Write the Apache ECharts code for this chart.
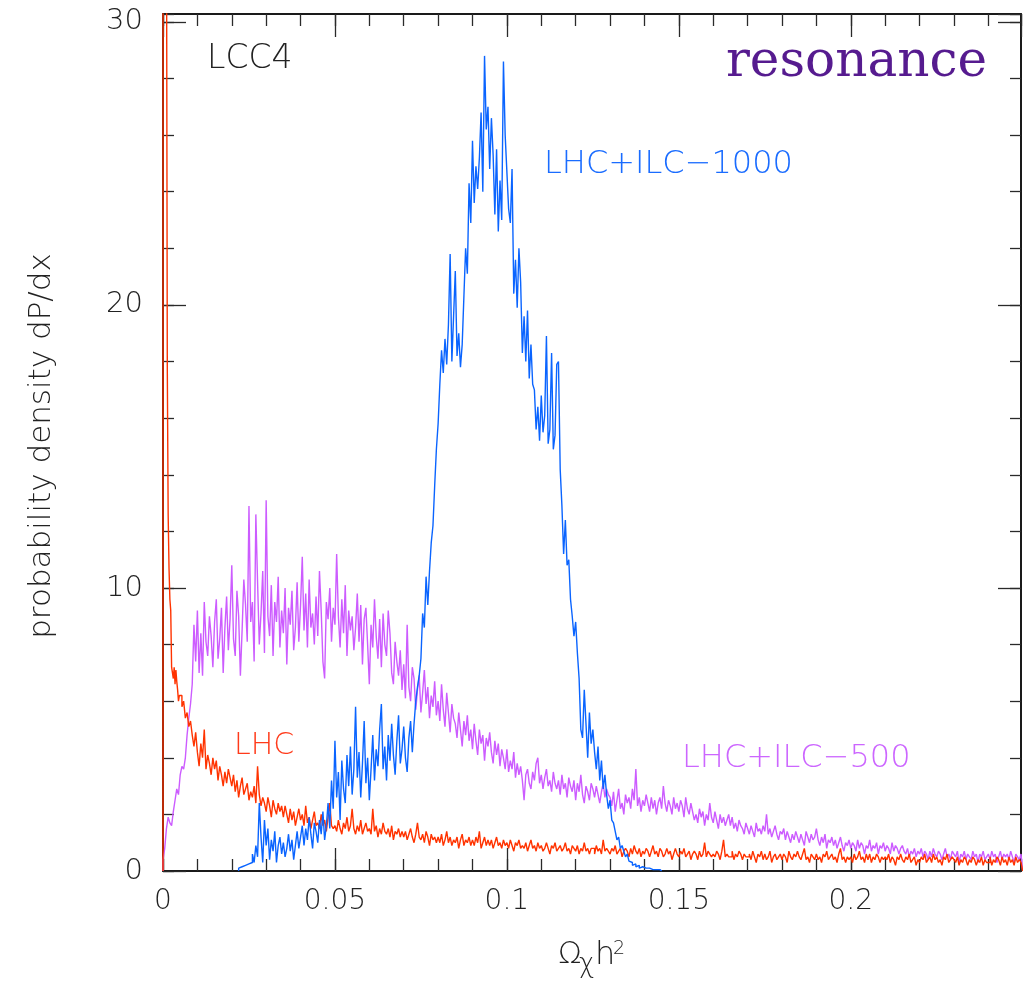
<!DOCTYPE html>
<html><head><meta charset="utf-8">
<script src="https://cdn.jsdelivr.net/npm/echarts@6/dist/echarts.min.js"></script>
<style>html,body{margin:0;padding:0;background:#fff}#c{width:1032px;height:982px}</style>
</head><body><div id="c"></div>
<script>
// ---- axis ranges & tick labels ----
const X_MIN = 0, X_MAX = 0.2495, Y_MIN = 0, Y_MAX = 30.28;
const xTickLabels = ['0', '0.05', '0.1', '0.15', '0.2'];
const yTickLabels = ['0', '10', '20', '30'];

// ---- LHC (red) : fine head bins then 0.0005 bins ----
const redHeadStart = 0, redHeadWidth = 0.00025;
const redHead = [40,40,40,40,35,17.8,12.6,10.7,9.6,9.2,7.2,7.0,6.8,7.2,6.6,7.1,6.7,6.4,6.0,6.2];
const redStart = 0.005, redWidth = 0.0005;
const redValues = [
6.2,5.8,6.0,5.4,5.6,5.1,5.3,4.8,4.4,4.9,
4.2,3.7,4.5,4.0,5.0,3.6,4.1,3.8,3.4,4.0,
3.6,3.9,3.2,3.7,3.4,3.0,3.5,3.1,3.6,3.3,
3.0,3.4,2.8,3.2,2.6,3.0,3.3,2.7,2.9,3.1,
2.5,2.8,2.6,3.0,2.4,3.7,2.7,2.3,2.6,2.4,
2.1,2.6,2.3,1.9,2.5,2.2,2.0,2.4,2.1,2.3,
1.9,2.3,2.0,1.7,2.2,1.8,2.1,1.6,1.9,2.2,
1.8,2.0,1.6,2.3,1.7,1.9,1.5,1.8,2.1,1.6,
1.7,1.5,2.0,1.6,1.8,1.4,1.9,2.4,1.6,1.5,
1.6,1.4,1.8,1.5,1.3,1.7,1.5,1.9,1.4,1.6,
2.2,1.5,1.3,1.6,1.4,1.8,1.3,1.5,1.7,1.4,
1.5,1.3,2.2,1.4,1.6,1.2,1.5,1.3,1.7,1.4,
1.3,1.5,1.2,1.6,1.1,1.4,1.3,1.5,1.2,1.4,
1.2,1.4,1.1,1.3,1.5,1.2,1.0,1.3,1.7,1.2,
1.1,1.3,1.0,1.4,1.2,0.9,1.3,1.1,1.2,1.0,
1.2,1.0,1.3,0.9,1.1,1.4,1.0,1.2,0.9,1.1,
1.0,1.2,0.8,1.1,1.3,0.9,1.1,1.0,1.2,0.9,
1.1,0.9,1.2,1.0,1.4,0.8,1.0,1.2,0.9,1.1,
0.9,1.1,0.8,1.0,1.2,0.9,1.0,0.8,1.1,0.9,
1.0,0.8,1.1,0.9,0.7,1.0,0.9,1.1,0.8,0.9,
0.8,1.0,0.7,0.9,1.1,0.8,0.9,0.7,1.0,0.8,
0.9,0.7,0.8,1.0,0.8,0.6,0.9,0.8,1.0,0.7,
0.8,0.9,0.7,0.8,1.0,0.7,0.8,0.6,0.9,0.8,
0.7,0.9,0.6,0.8,0.7,1.0,0.7,0.8,0.6,0.8,
0.8,0.6,0.9,0.7,0.8,0.6,1.1,0.7,0.8,0.7,
0.6,0.8,0.7,0.9,0.6,0.7,0.8,0.5,0.7,0.8,
0.7,0.5,0.8,0.6,0.9,0.7,0.6,0.8,0.5,0.7,
0.6,0.8,0.7,0.5,0.7,0.9,0.6,0.7,0.5,0.8,
0.7,0.5,0.6,0.8,0.6,0.7,0.4,0.6,0.8,0.6,
0.5,0.7,0.6,0.8,0.5,0.6,0.7,0.4,0.6,0.7,
0.6,0.4,0.7,0.5,0.6,1.0,0.5,0.7,0.6,0.5,
0.6,0.5,0.7,0.6,0.4,0.7,1.1,0.5,0.6,0.5,
0.5,0.7,0.4,0.6,0.5,0.7,0.6,0.4,0.6,0.5,
0.5,0.6,0.4,0.7,0.5,0.3,0.6,0.5,0.7,0.4,
0.6,0.4,0.5,0.7,0.3,0.5,0.6,0.4,0.5,0.6,
0.4,0.6,0.5,0.3,0.7,0.5,0.4,0.6,0.5,0.7,
0.5,0.4,0.6,0.8,0.4,0.5,0.3,0.6,0.5,0.4,
0.6,0.4,0.5,0.3,0.6,0.5,0.7,0.4,0.5,0.6,
0.4,0.5,0.3,0.6,0.8,0.4,0.5,0.3,0.5,0.4,
0.5,0.3,0.6,0.4,0.5,0.7,0.4,0.5,0.3,0.6,
0.4,0.6,0.3,0.5,0.4,0.6,0.5,0.3,0.5,0.4,
0.5,0.4,0.6,0.3,0.5,0.4,0.2,0.5,0.4,0.6,
0.4,0.3,0.5,0.4,0.6,0.3,0.4,0.5,0.2,0.4,
0.3,0.5,0.4,0.6,0.3,0.4,0.5,0.3,0.6,0.4,
0.5,0.3,0.4,0.2,0.5,0.4,0.6,0.3,0.4,0.5,
0.4,0.3,0.5,0.2,0.4,0.3,0.5,0.4,0.2,0.4,
0.3,0.5,0.4,0.2,0.4,0.3,0.5,0.2,0.4,0.3,
0.3,0.5,0.2,0.4,0.3,0.5,0.4,0.2,0.5,0.3,
0.4,0.2,0.5,0.3,0.4,0.2,0.5,0.3,0.4,0.3];

// ---- LHC+ILC-500 (purple) : 0.0005 bins ----
const purpleStart = 0, purpleWidth = 0.0005;
const purpleValues = [
0.4,0.8,1.5,1.9,1.7,1.6,2.1,2.5,2.9,2.7,
3.4,3.7,3.6,4.0,4.8,5.4,5.9,6.6,8.7,7.4,
9.2,7.0,8.4,6.9,9.5,8.1,7.6,9.0,8.3,7.2,
8.8,9.6,7.5,8.2,9.3,7.0,8.6,9.7,7.8,8.9,
10.8,8.2,7.6,9.9,9.0,6.9,8.5,10.3,9.4,8.1,
12.9,8.8,9.5,7.4,12.6,10.2,8.0,9.1,10.6,7.7,
13.1,9.0,8.3,10.1,7.6,9.5,8.8,10.4,7.9,9.2,
8.4,10.0,7.3,9.3,8.7,9.9,7.8,8.6,10.2,8.1,
9.4,11.1,8.5,9.8,7.9,10.3,8.6,9.1,8.0,9.7,
8.3,10.6,9.2,7.4,6.8,9.5,8.9,10.0,8.1,9.3,
8.7,11.2,9.0,7.9,9.6,8.4,10.1,7.6,9.2,8.5,
9.0,7.8,8.6,9.8,8.1,9.4,7.3,8.9,9.3,8.0,
6.6,8.7,7.9,9.6,8.3,7.5,8.9,7.2,9.1,8.0,
7.6,9.2,8.4,7.0,6.6,8.1,7.4,6.9,7.8,6.4,
7.3,6.1,8.7,6.5,6.0,7.2,6.8,5.7,6.4,6.9,
5.6,6.3,7.1,5.9,6.5,5.4,6.2,5.8,6.7,5.5,
6.0,5.3,6.6,5.7,5.1,6.3,5.6,4.9,5.9,5.4,
5.2,4.7,5.6,5.0,4.4,5.3,4.8,5.5,4.6,5.0,
4.3,5.2,4.6,4.1,5.0,4.5,4.8,3.9,4.7,4.4,
4.9,4.2,3.8,4.6,4.1,4.5,3.7,4.3,4.0,3.6,
4.3,3.5,3.9,3.6,4.2,3.3,3.8,3.4,3.7,3.2,
2.5,3.4,3.6,3.1,2.9,3.5,3.2,3.8,4.0,3.1,
3.4,2.9,3.3,3.6,3.0,3.2,2.8,3.5,3.1,2.9,
3.2,2.7,3.4,2.9,3.1,2.6,3.3,3.0,2.8,3.2,
2.5,3.1,2.8,3.4,2.7,2.4,3.0,2.8,2.5,3.1,
2.9,2.6,3.0,2.7,2.4,2.8,3.1,2.6,2.9,2.7,
2.6,2.3,2.8,2.1,2.5,2.9,2.2,2.4,2.0,2.7,
2.4,2.6,2.2,2.9,2.5,3.6,2.3,2.6,2.1,2.5,
2.3,2.7,2.4,2.1,2.6,2.2,2.5,2.0,2.4,2.6,
2.2,3.0,2.4,2.1,2.5,2.3,2.0,2.6,2.2,2.4,
2.1,2.5,2.3,1.9,2.6,2.2,2.0,2.4,2.1,1.8,
2.0,1.7,2.2,1.9,2.1,1.6,2.0,1.8,2.4,1.9,
1.7,2.1,1.8,1.5,2.0,1.7,1.9,1.6,1.8,2.0,
1.6,1.9,1.5,1.7,1.4,1.8,1.6,1.5,1.3,1.7,
1.5,1.3,1.6,1.4,1.2,1.7,1.4,1.5,1.3,1.6,
1.4,2.0,1.3,1.5,1.2,1.4,1.6,1.3,1.1,1.4,
1.3,1.5,1.1,1.4,1.2,1.0,1.3,1.1,1.4,1.2,
1.0,1.3,1.1,0.9,1.4,1.2,1.0,1.3,1.1,1.2,
1.5,1.1,0.9,1.2,1.0,1.3,0.8,1.1,1.0,1.2,
0.9,1.1,0.8,1.0,1.2,0.9,0.7,1.0,0.9,1.1,
0.8,1.0,0.9,0.7,1.1,0.8,1.0,0.9,0.6,0.9,
0.8,1.1,0.7,0.9,0.8,1.0,0.6,0.9,0.8,1.0,
0.7,0.9,0.8,0.6,1.0,0.7,0.9,0.8,0.6,0.8,
0.9,0.7,0.6,0.8,0.5,0.7,0.6,0.8,0.5,0.7,
0.6,0.8,0.5,0.7,0.6,0.4,0.7,0.5,0.8,0.6,
0.5,0.7,0.6,0.4,0.6,0.8,0.5,0.6,0.4,0.7,
0.6,0.5,0.7,0.3,0.6,0.5,0.7,0.4,0.6,0.5,
0.4,0.7,0.5,0.6,0.3,0.6,0.5,0.7,0.4,0.5,
0.6,0.4,0.7,0.5,0.6,0.3,0.5,0.7,0.4,0.6,
0.5,0.6,0.4,0.7,0.5,0.3,0.6,0.5,0.4,0.6];

// ---- LHC+ILC-1000 (blue) : 0.0005 bins ----
const blueStart = 0.022, blueWidth = 0.0005;
const blueValues = [
0.1,0.15,0.1,0.2,0.15,0.25,0.2,0.3,
0.6,0.3,0.9,0.5,
2.4,1.2,0.3,1.8,0.9,1.5,
0.4,1.1,0.7,1.4,0.3,0.9,1.2,0.6,
1.0,0.5,0.8,1.3,0.7,1.1,0.4,0.9,1.4,0.8,
1.2,1.6,0.9,1.5,1.1,1.9,1.3,0.8,1.7,1.4,
1.0,1.8,1.3,2.1,1.1,1.6,2.4,1.5,
3.2,2.2,4.6,2.6,3.5,1.8,3.9,2.9,
2.4,4.1,3.0,4.4,2.7,3.6,5.8,3.3,
4.2,2.6,3.8,5.3,3.1,4.0,2.5,3.6,4.8,3.2,4.3,3.7,
5.0,5.9,3.6,4.4,3.2,4.8,3.9,5.2,4.1,3.4,4.6,5.5,3.8,4.3,5.1,4.0,3.5,4.7,5.3,4.2,
5.2,6.0,6.5,6.9,
7.5,9.1,8.6,10.4,9.4,10.6,11.6,12.2,13.6,14.9,15.8,17.2,18.4,17.6,
18.8,17.9,19.3,21.8,18.0,19.6,21.2,18.2,19.0,
17.8,18.6,
20.3,22.0,21.1,
24.3,22.9,
25.8,23.6,24.9,24.1,
25.2,26.8,24.0,28.8,
26.2,27.0,24.8,26.6,25.3,
23.2,25.5,22.6,24.4,23.0,
28.6,26.0,
24.7,23.4,
22.9,24.8,20.4,21.6,19.9,22.0,
20.8,18.3,19.6,18.0,
19.8,17.4,18.6,17.2,
17.0,15.6,16.4,15.2,16.8,15.5,16.1,
18.9,15.1,15.6,18.3,14.9,15.4,17.9,18.0,
14.2,
12.9,11.2,12.4,10.8,
11.0,9.6,
9.0,8.3,8.8,7.7,
6.8,5.0,4.7,
6.4,5.2,4.0,5.6,4.5,
5.0,4.2,3.6,4.4,3.2,3.9,2.9,3.4,
2.7,2.2,2.5,1.8,
1.7,1.4,1.1,1.2,0.8,0.9,
0.7,0.5,0.6,0.35,0.3,
0.2,0.25,0.15,0.2,0.1,0.15,0.1,0.1,0.05,0.1,0.15,0.05,0.1,0.05,0.1,0.05,0];

// ---- build histogram step points ----
function hist(segs) {
  const pts = [[segs[0][0], 0]];
  segs.forEach(([s, w, vals]) => vals.forEach((v, i) => pts.push([+(s + i * w).toFixed(6), v])));
  const last = segs[segs.length - 1];
  const xe = +(last[0] + last[1] * last[2].length).toFixed(6);
  pts.push([xe, last[2][last[2].length - 1]]);
  pts.push([xe, 0]);
  return pts;
}
const redData = hist([[redHeadStart, redHeadWidth, redHead], [redStart, redWidth, redValues]]);
const purpleData = hist([[purpleStart, purpleWidth, purpleValues]]);
const blueData = hist([[blueStart, blueWidth, blueValues]]);

const FONT = 'DejaVu Sans';
const lineSty = { color: '#1a1a1a', width: 2 };
const tickSty = { color: '#2a2a2a', width: 1.3 };
function lab(list) {
  return v => { const s = list.find(t => Math.abs(parseFloat(t) - v) < 1e-9); return s === undefined ? '' : s; };
}
function xAx(pos, interval, len, showLabel, showLine) {
  return { type: 'value', gridIndex: 0, position: pos, min: X_MIN, max: X_MAX, interval: interval,
    axisLine: { show: showLine, onZero: false, lineStyle: lineSty },
    axisTick: { show: true, inside: true, length: len, lineStyle: tickSty },
    axisLabel: { show: showLabel, formatter: lab(xTickLabels), showMaxLabel: false, margin: 17,
      fontFamily: FONT, fontWeight: 200, fontSize: 28, color: '#222' },
    splitLine: { show: false } };
}
function yAx(pos, interval, len, showLabel, showLine) {
  return { type: 'value', gridIndex: 0, position: pos, min: Y_MIN, max: Y_MAX, interval: interval,
    axisLine: { show: showLine, onZero: false, lineStyle: lineSty },
    axisTick: { show: true, inside: true, length: len, lineStyle: tickSty },
    axisLabel: { show: showLabel, formatter: lab(yTickLabels), showMaxLabel: false, margin: 20,
      fontFamily: FONT, fontWeight: 200, fontSize: 29, color: '#222' },
    splitLine: { show: false } };
}

const chart = echarts.init(document.getElementById('c'), null, { renderer: 'canvas' });
function txt(x, y, text, size, color, extra) {
  return Object.assign({ type: 'text', x: x, y: y, silent: true,
    style: Object.assign({ text: text, fontFamily: FONT, fontWeight: 200, fontSize: size, fill: color,
      align: 'left', verticalAlign: 'middle' }, (extra && extra.style) || {}) }, (extra && extra.el) || {});
}
chart.setOption({
  animation: false,
  backgroundColor: '#fff',
  grid: { left: 163, right: 11, top: 14, bottom: 111, containLabel: false },
  xAxis: [
    xAx('bottom', 0.05, 23, true, true),
    xAx('bottom', 0.01, 12, false, false),
    xAx('top', 0.05, 23, false, true),
    xAx('top', 0.01, 12, false, false)
  ],
  yAxis: [
    yAx('left', 10, 23, true, true),
    yAx('left', 2, 11, false, false),
    yAx('right', 10, 23, false, true),
    yAx('right', 2, 11, false, false)
  ],
  series: [
    { name: 'LHC+ILC-500', type: 'line', step: 'end', data: purpleData, symbol: 'none', silent: true,
      lineStyle: { color: '#cc5cff', width: 1.4 }, clip: true },
    { name: 'LHC', type: 'line', step: 'end', data: redData, symbol: 'none', silent: true,
      lineStyle: { color: '#ff3300', width: 1.4 }, clip: true },
    { name: 'LHC+ILC-1000', type: 'line', step: 'end', data: blueData, symbol: 'none', silent: true,
      lineStyle: { color: '#0a64ff', width: 1.4 }, clip: true }
  ],
  graphic: [
    txt(207, 59, 'LCC4', 33, '#222'),
    txt(987, 63, 'resonance', 50, '#561b8f', { style: { fontFamily: 'DejaVu Serif', fontWeight: 'normal', align: 'right' } }),
    txt(544, 165, 'LHC+ILC\u22121000', 32, '#1a6cff'),
    txt(234, 746, 'LHC', 30, '#ff3a1a'),
    txt(682, 759, 'LHC+ILC\u2212500', 32, '#cc66ff'),
    txt(42, 446, 'probability density dP/dx', 31, '#222', { style: { align: 'center' }, el: { rotation: Math.PI / 2 } }),
    txt(558, 955, '\u03a9', 31, '#222'),
    txt(579, 965, '\u03c7', 26, '#222'),
    txt(595, 956, 'h', 32, '#222'),
    txt(613, 949, '2', 19, '#222')
  ]
});
</script></body></html>
